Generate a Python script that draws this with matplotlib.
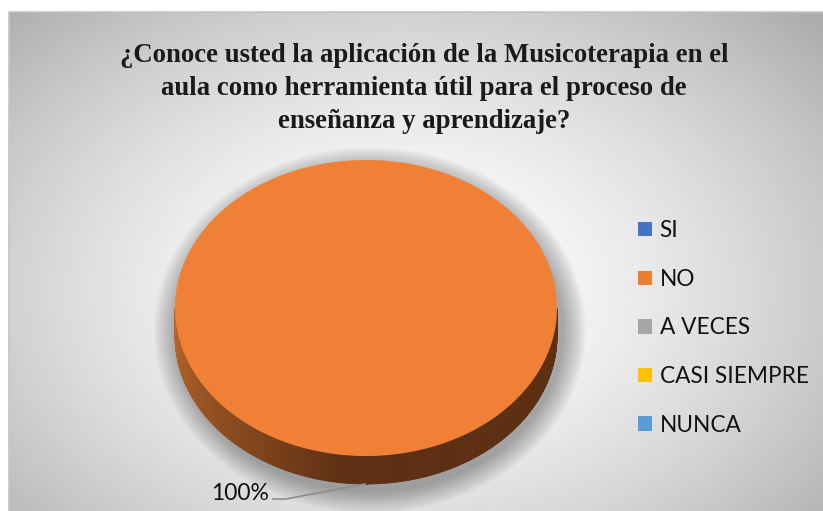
import numpy as np
import matplotlib.pyplot as plt
from matplotlib.patches import Polygon, Ellipse, Patch
from matplotlib.colors import to_rgb

# data
categories = ["SI", "NO", "A VECES", "CASI SIEMPRE", "NUNCA"]
values = [0, 100, 0, 0, 0]
colors = ["#4472C4", "#ED7D31", "#A5A5A5", "#FFC000", "#5B9BD5"]
title = ("¿Conoce usted la aplicación de la Musicoterapia en el\n"
         "aula como herramienta útil para el proceso de\n"
         "enseñanza y aprendizaje?")

W, H = 823, 511
fig = plt.figure(figsize=(W / 100, H / 100), dpi=100)
ax = fig.add_axes([0, 0, 1, 1])
ax.set_xlim(0, W)
ax.set_ylim(H, 0)
ax.axis("off")

# chart area with soft radial gradient
x0, y0 = 9, 12
gx, gy = np.meshgrid(np.linspace(x0, W, 400), np.linspace(y0, H, 250))
d = np.sqrt(((gx - 400) / 470) ** 2 + ((gy - 290) / 330) ** 2)
shade = 1.0 - 0.24 * np.clip(d, 0, 1.2) ** 1.6
ax.imshow(shade, cmap="gray", vmin=0, vmax=1, extent=[x0, W, H, y0],
          aspect="auto", zorder=0, interpolation="bilinear")
ax.plot([x0, x0, W], [H, y0, y0], color="#c4c4c4", lw=1.2, zorder=1)

ax.text(424, 88.5, title, ha="center", va="center", fontsize=19.3,
        fontweight="bold", family="Liberation Serif", linespacing=1.42,
        color="#1a1a1a", zorder=5)

# 3d pie geometry
cx, cy, a, b, depth = 366, 308, 191, 148, 28

# soft shadow under the pie
for k in range(14):
    ax.add_patch(Ellipse((cx + 4, cy + 22), 2 * a + 6 + k * 3.4, 2 * b + 28 + k * 3.2,
                         color="black", alpha=0.022, lw=0, zorder=2))

fracs = np.array(values, dtype=float) / sum(values)
starts = -np.pi / 2 + 2 * np.pi * np.concatenate([[0], np.cumsum(fracs)[:-1]])
ends = starts + 2 * np.pi * fracs

light = np.array(to_rgb("#b9672c"))
dark = np.array(to_rgb("#5d3013"))

for val, col, t0, t1 in zip(values, colors, starts, ends):
    if val == 0:
        continue
    # visible side (lower half of the ellipse)
    ts = np.linspace(t0, t1, 720)
    for ta, tb in zip(ts[:-1], ts[1:]):
        tm = (ta + tb) / 2 % (2 * np.pi)
        if not (0 <= tm <= np.pi):
            continue
        f = np.clip((tm - 1.7) / (np.pi - 1.7), 0, 1) ** 0.9
        c = dark + (light - dark) * f
        xa, xb = cx + a * np.cos(ta), cx + a * np.cos(tb)
        ya, yb = cy + b * np.sin(ta), cy + b * np.sin(tb)
        ax.add_patch(Polygon([[xa, ya], [xb, yb], [xb, yb + depth], [xa, ya + depth]],
                             closed=True, fc=c, ec=c, lw=0.6, zorder=3))
    # top face
    pts = np.column_stack([cx + a * np.cos(ts), cy + b * np.sin(ts)])
    if t1 - t0 < 2 * np.pi - 1e-9:
        pts = np.vstack([[cx, cy], pts])
    ax.add_patch(Polygon(pts, closed=True, fc="#EF8035", ec="none", zorder=4))

    # data label with leader line
    tm = (t0 + t1) / 2
    px, py = cx + a * np.cos(tm), cy + b * np.sin(tm) + depth
    ax.plot([px - 1, px - 80, px - 93], [py, py + 15, py + 15], color="#8c8c8c",
            lw=1.2, zorder=5)
    ax.text(px - 97, py + 9, f"{val:.0f}%", ha="right", va="center",
            fontsize=16.5, family="Lato", color="#111111", zorder=5)

handles = [Patch(fc=c, ec="none") for c in colors]
ax.legend(handles, categories, loc="upper left", bbox_to_anchor=(629 / W, 1 - 211 / H),
          frameon=False, prop={"family": "Lato", "size": 16.3}, handlelength=0.6,
          handleheight=0.6, handletextpad=0.35, labelspacing=1.22,
          borderaxespad=0, labelcolor="#111111")

fig.savefig("out.png", dpi=100)
